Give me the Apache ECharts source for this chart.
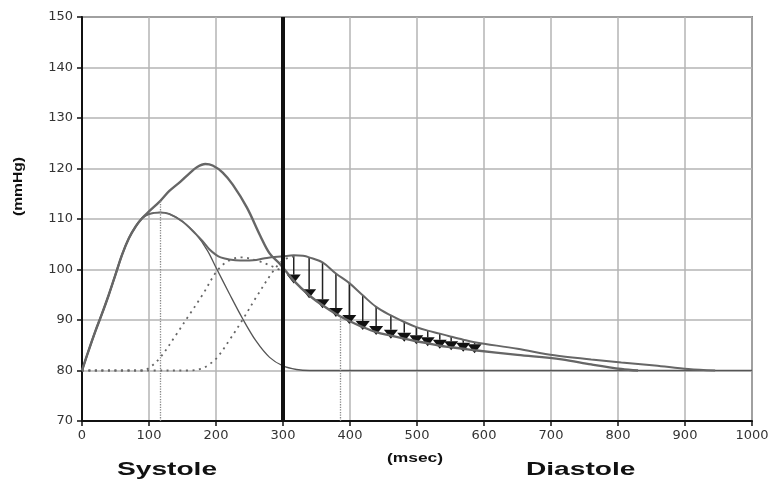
<!DOCTYPE html>
<html><head><meta charset="utf-8">
<script src="https://cdn.jsdelivr.net/npm/echarts@6/dist/echarts.min.js"></script>
<style>html,body{margin:0;padding:0;background:#fff}#c{width:774px;height:479px}</style>
</head><body><div id="c"></div>
<script>
// Forward wave (thin solid)
const fwdX = [0,10,20,30,40,50,60,70,80,90,100,117,130,150,170,187,200,220,240,260,280,300,320,340,500,700,1000];
const fwdY = [80,84,87.8,91.3,95,99,103,106.2,108.5,110.2,111,111.3,111,109.5,107,103.8,100.4,95.2,90.2,85.8,82.6,80.9,80.2,80,80,80,80];
// Early reflected wave (dotted)
const refl1X = [0,60,90,100,117,140,160,180,202,220,239,260,281,300];
const refl1Y = [80,80,80,80.5,82.6,87,91,95,99.8,101.8,102.4,101.8,100.8,99.6];
// Late reflected wave (dotted)
const refl2X = [0,100,160,177,190,202,220,239,260,286,300,310,320];
const refl2Y = [80,80,80,80.3,81.2,82.6,86,89.9,94.5,99.8,101.8,102.4,102.7];
// Total pressure, early reflection (thick solid)
const totAX = [0,10,20,30,40,50,60,70,80,90,100,117,130,147,160,172,184,195,210,225,246,266,280,296,316,339,359,379,399,419,439,461,481,499,516,534,551,569,586,650,716,760,805,830];
const totAY = [80,84,87.8,91.3,95,99,103,106.2,108.5,110.2,111.5,113.6,115.5,117.4,119,120.3,120.9,120.6,119.2,116.8,112.3,106.7,103.2,101,97.8,94.9,92.9,91.2,89.8,88.6,87.6,86.9,86.3,85.8,85.4,84.9,84.6,84.3,84.0,83.1,82.2,81.2,80.3,80];
// Total pressure, late reflection (solid)
const totBX = [0,10,20,30,40,50,60,70,80,90,100,117,130,150,170,180,190,200,207,220,236,260,276,300,316,330,339,359,379,399,419,439,461,481,499,516,534,551,569,586,650,705,760,805,855,905,945];
const totBY = [80,84,87.8,91.3,95,99,103,106.2,108.5,110.2,111,111.3,111,109.5,107,105.6,104,102.9,102.4,102,101.8,101.9,102.3,102.6,102.8,102.7,102.4,101.4,99.2,97.3,94.9,92.6,90.9,89.6,88.6,87.9,87.3,86.7,86.1,85.6,84.3,83.0,82.2,81.6,81.0,80.3,80];
// Arrows: x, top (late total), bottom (early total)
const arrowX = [316,339,359,379,399,419,439,461,481,499,516,534,551,569,586];
const arrowTop = [102.8,102.4,101.4,99.2,97.3,94.9,92.6,90.9,89.6,88.6,87.9,87.3,86.7,86.1,85.6];
const arrowBot = [97.8,94.9,92.9,91.2,89.8,88.6,87.6,86.9,86.3,85.8,85.4,84.9,84.6,84.3,84.0];
// Reference vertical dotted lines
const refLineX = [117,385];
const refLineTop = [113.6,90.7];
const endSystole = 300;

const pairs = (xs, ys) => xs.map((x,i)=>[x, ys[i]]);
const chart = echarts.init(document.getElementById('c'));
const font = 'Liberation Sans, Arial, sans-serif';
const tickFont = 'DejaVu Sans, sans-serif';
const curveCol = '#666';
const SM = 0.35;

chart.setOption({
  animation:false,
  grid:{left:82,right:22,top:17,bottom:58,show:true,borderColor:'#333',borderWidth:1.5},
  xAxis:{type:'value',min:0,max:1000,interval:100,
    axisLine:{show:true,onZero:false,lineStyle:{color:'#111',width:2}},
    axisTick:{show:true,length:5,lineStyle:{color:'#111',width:1.5}},
    axisLabel:{color:'#333',fontSize:13,fontFamily:tickFont,margin:8,formatter:v=>String(v)},
    splitLine:{show:true,lineStyle:{color:'#b4b4b4',width:1.5}}},
  yAxis:{type:'value',min:70,max:150,interval:10,
    axisLine:{show:true,lineStyle:{color:'#111',width:2}},
    axisTick:{show:true,length:5,lineStyle:{color:'#111',width:1.5}},
    axisLabel:{color:'#333',fontSize:13,fontFamily:tickFont,margin:9},
    splitLine:{show:true,lineStyle:{color:'#b4b4b4',width:1.5}}},
  graphic:[
    {type:'text',x:117,y:460,scaleX:1.48,style:{text:'Systole',font:'bold 19px '+font,fill:'#111'}},
    {type:'text',x:526,y:460,scaleX:1.48,style:{text:'Diastole',font:'bold 19px '+font,fill:'#111'}},
    {type:'text',x:387,y:453,scaleX:1.45,style:{text:'(msec)',font:'bold 12px '+font,fill:'#111'}},
    {type:'text',x:13,y:216,rotation:Math.PI/2,scaleX:1.3,style:{text:'(mmHg)',font:'bold 12px '+font,fill:'#111'}}
  ],
  series:[
    {type:'line',data:refLineX.map((x,i)=>[x,70]),showSymbol:false,lineStyle:{width:0},
      markLine:{silent:true,symbol:'none',label:{show:false},
        lineStyle:{color:'#888',type:'dotted',width:1.3},
        data:refLineX.map((x,i)=>[{coord:[x,70]},{coord:[x,refLineTop[i]]}])}},
    {type:'line',data:pairs(refl1X,refl1Y),smooth:SM,showSymbol:false,
      lineStyle:{color:'#666',width:1.8,type:[2,4.5]}},
    {type:'line',data:pairs(refl2X,refl2Y),smooth:SM,showSymbol:false,
      lineStyle:{color:'#666',width:1.8,type:[2,4.5]}},
    {type:'line',data:pairs(fwdX,fwdY),smooth:SM,showSymbol:false,
      lineStyle:{color:'#555',width:1.3}},
    {type:'line',data:pairs(totBX,totBY),smooth:SM,showSymbol:false,
      lineStyle:{color:curveCol,width:2}},
    {type:'line',data:pairs(totAX,totAY),smooth:SM,showSymbol:false,
      lineStyle:{color:curveCol,width:2.4},
      markLine:{silent:true,symbol:'none',label:{show:false},
        lineStyle:{color:'#111',type:'solid',width:4},
        data:[[{coord:[endSystole,70]},{coord:[endSystole,150]}]]}},
    {type:'custom',data:arrowX.map((x,i)=>[x,arrowTop[i],arrowBot[i]]),
      renderItem:function(params,api){
        const top = api.coord([api.value(0),api.value(1)]);
        const bot = api.coord([api.value(0),api.value(2)]);
        const tipY = bot[1]+3, h=9, w=7;
        return {type:'group',children:[
          {type:'line',shape:{x1:top[0],y1:top[1],x2:top[0],y2:tipY-h},style:{stroke:'#222',lineWidth:1.5}},
          {type:'polygon',shape:{points:[[top[0]-w,tipY-h],[top[0]+w,tipY-h],[top[0],tipY]]},style:{fill:'#111'}}
        ]};
      }}
  ]
});
</script></body></html>
